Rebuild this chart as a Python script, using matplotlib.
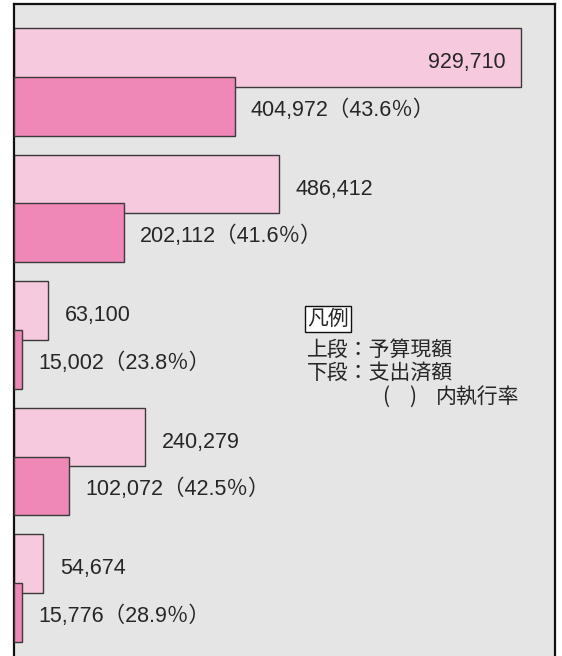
import matplotlib
matplotlib.use("Agg")
import matplotlib.pyplot as plt
import numpy as np

budget = [929710, 486412, 63100, 240279, 54674]
spent = [404972, 202112, 15002, 102072, 15776]
rates = [43.6, 41.6, 23.8, 42.5, 28.9]
budget_labels = ["929,710", "486,412", "63,100", "240,279", "54,674"]
spent_labels = ["404,972", "202,112", "15,002", "102,072", "15,776"]
legend_title = "凡例"
legend_lines = ["上段：予算現額", "下段：支出済額"]
legend_note = "内執行率"

W, H = 562, 656
fig = plt.figure(figsize=(W / 100, H / 100), dpi=100)
left_px, right_px, top_px = 13.5, 555, 4
ax = fig.add_axes([left_px / W, 0, (right_px - left_px) / W, (H - top_px) / H])
ax.set_facecolor("#e5e5e5")

y = np.arange(len(budget))
off = 0.387
h = 0.466
ax.barh(y, budget, height=h, color="#f7c9de", edgecolor="#3a3a3a", linewidth=1.0, zorder=2)
ax.barh(y + off, spent, height=h, color="#f088b7", edgecolor="#3a3a3a", linewidth=1.0, zorder=3)

fam = ["Liberation Sans", "Noto Sans CJK JP"]
tc = "#262626"
fs = 15.5
xmax = 992000
for i in range(len(budget)):
    if budget[i] > 0.8 * xmax:
        ax.text(budget[i] - 29000, y[i] + 0.04, budget_labels[i], ha="right", va="center",
                fontsize=fs, family=fam, color=tc, zorder=4)
    else:
        ax.text(budget[i] + 31000, y[i] + 0.04, budget_labels[i], ha="left", va="center",
                fontsize=fs, family=fam, color=tc, zorder=4)
    ax.text(spent[i] + 30000, y[i] + off + 0.03, f"{spent_labels[i]}（{rates[i]:.1f}％）",
            ha="left", va="center", fontsize=fs, family=fam, color=tc, zorder=4)

ax.set_xlim(0, xmax)
ax.set_ylim(4.731, -0.423)
ax.set_xticks([])
ax.set_yticks([])
for s in ["left", "right", "top"]:
    ax.spines[s].set_linewidth(1.6)
    ax.spines[s].set_color("#111111")
ax.spines["bottom"].set_visible(False)

lfam = ["Noto Sans CJK JP", "DejaVu Sans"]
lfs = 15
ax.text(0.542, 0.517, legend_title, transform=ax.transAxes, ha="left", va="center",
        fontsize=lfs, family=lfam, color=tc,
        bbox=dict(boxstyle="square,pad=0.1", facecolor="white", edgecolor="#111111", linewidth=1.0))
ax.text(0.542, 0.469, legend_lines[0], transform=ax.transAxes, ha="left", va="center",
        fontsize=lfs, family=lfam, color=tc)
ax.text(0.542, 0.434, legend_lines[1], transform=ax.transAxes, ha="left", va="center",
        fontsize=lfs, family=lfam, color=tc)
ax.text(0.688, 0.398, "(", transform=ax.transAxes, ha="center", va="center",
        fontsize=lfs, family=lfam, color=tc)
ax.text(0.738, 0.398, ")", transform=ax.transAxes, ha="center", va="center",
        fontsize=lfs, family=lfam, color=tc)
ax.text(0.934, 0.398, legend_note, transform=ax.transAxes, ha="right", va="center",
        fontsize=lfs, family=lfam, color=tc)

fig.savefig("out.png", dpi=100)
